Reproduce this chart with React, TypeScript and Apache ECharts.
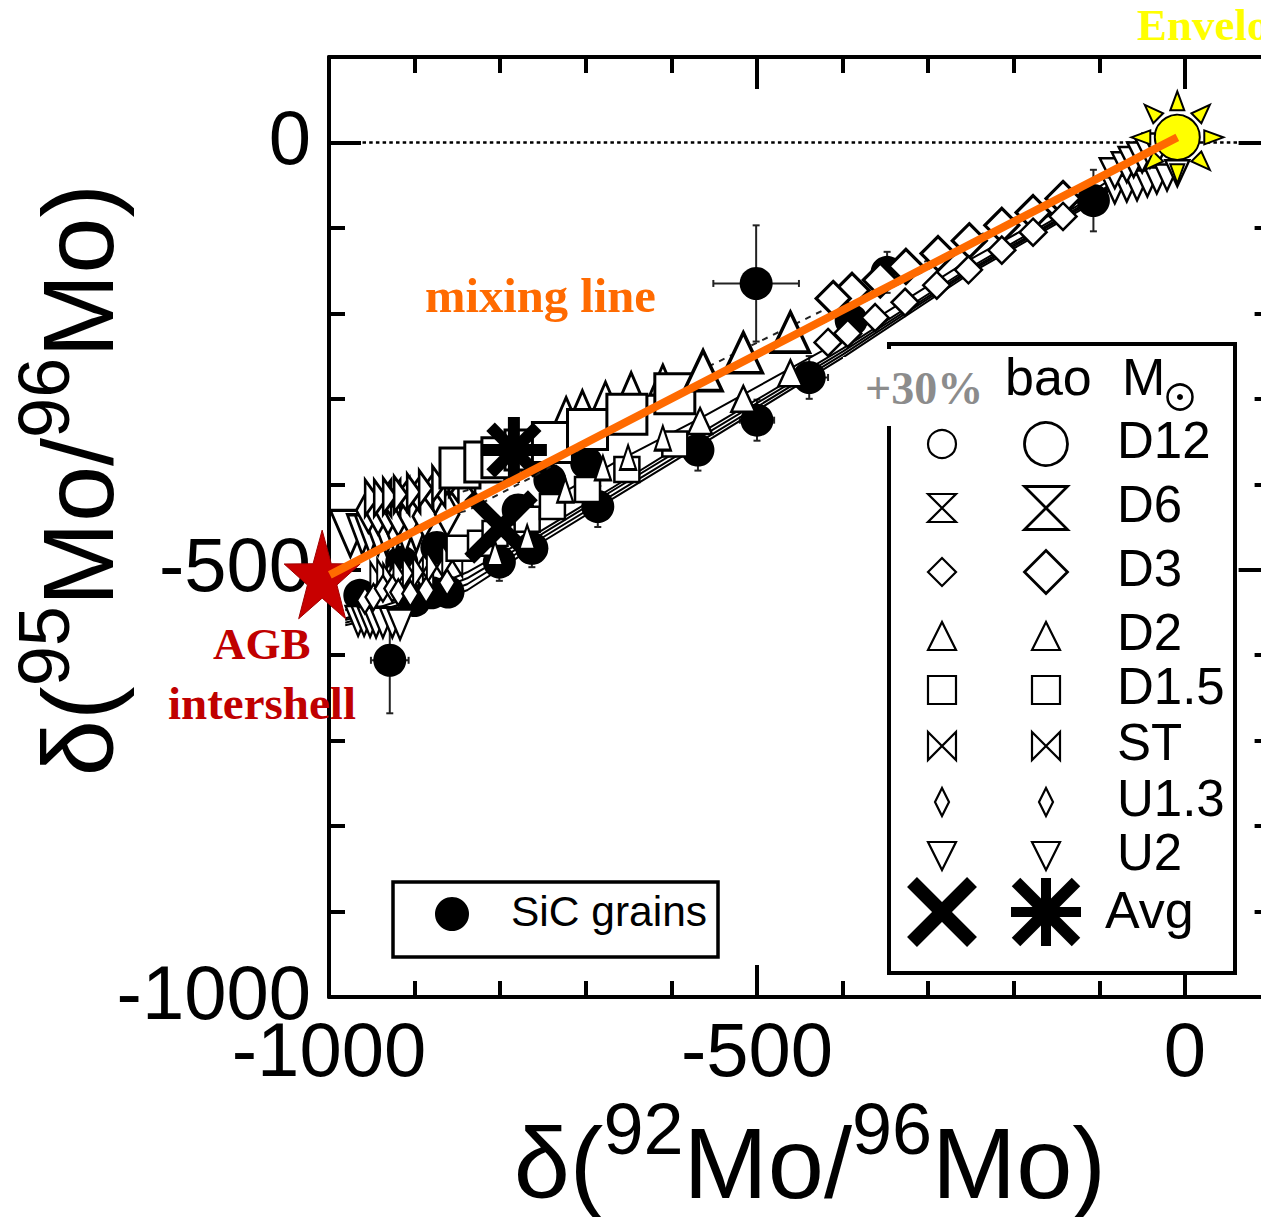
import React, { useEffect, useRef } from "react";
import * as echarts from "echarts";

const SANS = '"Liberation Sans", Arial, sans-serif';
const SERIF = '"Liberation Serif", serif';

// ---- SiC grains: x, y, x-error, y-error
const grainX = [-501, -500, -439, -569, -107, -348, -390, -686, -763, -801, -699, -742, -779, -874, -915, -964, -861, -880, -900, -929];
const grainY = [-165, -325, -275, -360, -68, -152, -208, -426, -475, -491, -375, -395, -430, -474, -491, -530, -526, -527, -536, -606];
const grainErrX = [50, 20, 22, 12, 12, 12, 10, 10, 10, 10, 10, 10, 10, 10, 10, 10, 10, 10, 10, 22];
const grainErrY = [68, 24, 25, 24, 36, 24, 12, 24, 22, 22, 12, 12, 12, 12, 12, 12, 12, 12, 12, 62];

// ---- model mixing lines
const bundleX = [-9, -110.6, -253, -399.5, -566.5, -668, -761.5, -838.6, -917, -981];
const bundleY1 = [2, -72.5, -154.5, -251.5, -354.5, -416.5, -474, -524, -550, -565];
const bundleY2 = [5, -70, -152, -248, -350, -412, -469, -517, -545, -562];
const bundleY3 = [6, -68, -150, -244.5, -345, -407, -464.5, -510, -540.5, -559];
const bundleY4 = [6, -65.5, -147.5, -241, -340.5, -403.5, -460, -503, -536, -557];
const bundleY5 = [6, -58.5, -138, -230.5, -323, -375.5, -430.5, -471.5, -518, -547.5];
const dashedX = [-9, -253, -399.5, -566.5, -668, -761.5, -838.6, -917, -981];
const dashedY1 = [6, -115, -185, -267, -316, -372, -407, -431, -448];
const dashedY2 = [6, -124, -199, -285.5, -337, -391, -431, -448, -460];

// ---- model markers
const upDiamonds = [[-142.5, -65.5], [-177.5, -82], [-214, -97], [-252, -115], [-288.5, -130], [-326, -145], [-356, -161], [-389, -173], [-411, -182.5]];
const upTriLarge = [[-461, -222], [-516, -246], [-563, -267]];
const upTriSmall = [[-610, -278], [-647, -287], [-677, -298], [-704, -308], [-723, -316]];
const upSquares = [[-847, -381], [-818, -374], [-798, -369], [-771, -360], [-739, -351], [-698, -336], [-652, -318], [-596, -294]];
const upBowties = [[-942.6, -416], [-932, -416], [-921.5, -414], [-908.7, -412], [-893.5, -409], [-879.5, -405], [-864, -400], [-844.5, -392]];
const upThin = [[-954, -430.5], [-942.6, -433], [-931, -433], [-919, -435], [-905, -435], [-888, -437.6], [-862, -435]];
const upDownBig = [[-975, -457.5]];
const upDownStack = [[-961, -459], [-952, -459], [-942.6, -459], [-933, -459], [-923, -457], [-911, -457], [-898, -456]];
const sunDownUp = [[-82, -36], [-68, -29], [-60, -23], [-50, -17.5], [-41, -12], [-31.5, -7]];
const sunDownLow = [[-82, -56], [-68, -54], [-56, -52.6], [-44, -48], [-33, -44.5], [-21, -41], [-9, -36]];
const lowDiamonds = [[-142.5, -86.6], [-177.5, -105], [-214, -126], [-253, -149], [-290, -167], [-327, -187], [-362, -205], [-394, -223.5], [-417, -234]];
const lowTriLarge = [[-461, -270], [-516, -300], [-566.5, -326]];
const lowTriSmall = [[-610, -346], [-650.6, -368.6], [-680, -381], [-724, -407], [-768.5, -462], [-806, -481]];
const lowSquares = [[-848, -475], [-823, -469], [-806, -457.5], [-768.5, -441], [-739, -426], [-698, -406], [-652, -382.6], [-596, -353]];
const lowBowties = [[-940, -510], [-932, -506.5], [-925, -512], [-913, -506.5], [-902, -504], [-890, -503], [-874, -497], [-856, -489]];
const lowThin = [[-958, -536], [-948, -532], [-937, -522], [-926, -522], [-919, -526.5], [-905, -528], [-886.5, -524], [-862, -515]];
const lowDown = [[-966, -560], [-959, -560], [-952, -561], [-945, -562], [-937, -562], [-926, -562], [-917, -564]];

const avgCross = [[-799, -450]];
const avgAsterisk = [[-784, -360]];

const mixingLine = [[-9, 6], [-999, -506]];
const envelopePoint = [[-9, 6]];
const agbPoint = [[-1008, -511]];
const zeroLine = [[-1000, 0], [100, 0]];

// ---- tick values
const xMajorTicks = [-1000, -500, 0];
const yMajorTicks = [-1000, -500, 0];

// ---- legend
const legendRows = ["D12", "D6", "D3", "D2", "D1.5", "ST", "U1.3", "U2"];
const legendShapes = ["circle", "hourglass", "diamond", "triangle", "square", "bowtie", "thin", "down"];
const legendRight = [43, 43, 43, 28, 28, 28, 28, 28];

const BOWTIE = "path://M0 0L10 10L10 0L0 10Z";

function polyPoints(shape: string, cx: number, cy: number, s: number): number[][] {
  const h = s / 2;
  switch (shape) {
    case "hourglass": return [[cx - h, cy - h], [cx + h, cy - h], [cx - h, cy + h], [cx + h, cy + h]];
    case "diamond": return [[cx - h, cy], [cx, cy - h], [cx + h, cy], [cx, cy + h]];
    case "triangle": return [[cx - h, cy + h], [cx, cy - h], [cx + h, cy + h]];
    case "square": return [[cx - h, cy - h], [cx + h, cy - h], [cx + h, cy + h], [cx - h, cy + h]];
    case "bowtie": return [[cx - h, cy - h], [cx + h, cy + h], [cx + h, cy - h], [cx - h, cy + h]];
    case "thin": return [[cx - h / 2, cy], [cx, cy - h], [cx + h / 2, cy], [cx, cy + h]];
    default: return [[cx - h, cy - h], [cx + h, cy - h], [cx, cy + h]];
  }
}

function zip(xs: number[], ys: number[]) {
  return xs.map((x, i) => [x, ys[i]]);
}

function marks(data: number[][], symbol: string, size: number | number[], rotate = 0, width = 2.5) {
  return {
    type: "scatter",
    data,
    symbol,
    symbolSize: size,
    symbolRotate: rotate,
    clip: false,
    itemStyle: { color: "#fff", borderColor: "#000", borderWidth: width, opacity: 1 },
  };
}

function thinLine(data: number[][], dashed = false) {
  return {
    type: "line",
    data,
    showSymbol: false,
    symbol: "none",
    clip: false,
    lineStyle: dashed
      ? { color: "#222", width: 2, type: [6, 6] }
      : { color: "#000", width: 2 },
  };
}

function armSeries(data: number[][], angles: number[], arm: number, width: number) {
  return {
    type: "custom",
    data,
    encode: { x: 0, y: 1 },
    renderItem: (_p: any, api: any) => {
      const [cx, cy] = api.coord([api.value(0), api.value(1)]);
      return {
        type: "group",
        children: angles.map((a) => {
          const t = (a * Math.PI) / 180;
          return {
            type: "line",
            shape: { x1: cx - arm * Math.cos(t), y1: cy - arm * Math.sin(t), x2: cx + arm * Math.cos(t), y2: cy + arm * Math.sin(t) },
            style: { stroke: "#000", lineWidth: width },
          };
        }),
      };
    },
  };
}

function makeAxes(kind: "x" | "y") {
  const major = kind === "x" ? xMajorTicks : yMajorTicks;
  const range = { min: -1000, max: 100 };
  const first = kind === "x" ? "bottom" : "left";
  const second = kind === "x" ? "top" : "right";
  const base = { type: "value", ...range, splitLine: { show: false }, axisLine: { onZero: false, show: true, lineStyle: { color: "#000", width: 4 } } };
  const rich = {
    b: { fontFamily: SANS, fontSize: 101, lineHeight: 140, color: "#000" },
    s: { fontFamily: SANS, fontSize: 72, verticalAlign: "top", lineHeight: 72, color: "#000" },
  };
  const tick = (len: number) => ({ show: true, inside: true, length: len, lineStyle: { color: "#000", width: 4 } });
  const labelStyle = { fontFamily: SANS, fontSize: 76, color: "#000" };
  return [
    {
      ...base,
      position: first,
      name: kind === "x" ? "{b|δ(}{s|92}{b|Mo/}{s|96}{b|Mo)}" : "{b|δ(}{s|95}{b|Mo/}{s|96}{b|Mo)}",
      nameLocation: "middle",
      nameMoveOverlap: false,
      nameGap: kind === "x" ? 96 : 181,
      nameTextStyle: kind === "x" ? { rich, padding: [0, 0, 0, 20] } : { rich, padding: [0, 0, 0, 94] },
      axisTick: { ...tick(32), customValues: major },
      axisLabel: {
        show: true,
        customValues: major,
        ...labelStyle,
        margin: kind === "x" ? 14 : 18,
        formatter: kind === "x" ? (v: number) => String(v) : (v: number) => `{a|${v}}`,
        rich: { a: { ...labelStyle, padding: [0, 0, 10, 0] } },
      },
    },
    { ...base, position: second, axisTick: { ...tick(32), customValues: major }, axisLabel: { show: false } },
    { ...base, position: first, interval: 100, axisLine: { onZero: false, show: false }, axisTick: tick(16), axisLabel: { show: false } },
    { ...base, position: second, interval: 100, axisLine: { onZero: false, show: false }, axisTick: tick(16), axisLabel: { show: false } },
  ];
}

function legendGraphics() {
  const Z = 50;
  const els: any[] = [];
  const txt = (text: string, x: number, y: number, font: string, fill = "#000", align = "left") => ({
    type: "text", z: Z + 1,
    style: { text, x, y, font, fill, align, verticalAlign: "middle" },
  });
  // white covers
  els.push({ type: "rect", z: Z, shape: { x: 843, y: 357, width: 50, height: 69 }, style: { fill: "#fff" } });
  els.push({ type: "rect", z: Z, shape: { x: 889, y: 344, width: 346, height: 629 }, style: { fill: "#fff" } });
  els.push({
    type: "polyline", z: Z + 1,
    shape: { points: [[889, 426], [889, 973], [1235, 973], [1235, 344], [889, 344], [889, 349]] },
    style: { stroke: "#000", lineWidth: 4, fill: "none" },
  });
  els.push(txt("+30%", 865, 388, `bold 46px ${SERIF}`, "#8c8c8c"));
  els.push(txt("bao", 1005, 377, `52px ${SANS}`));
  els.push(txt("M", 1122, 377, `52px ${SANS}`));
  els.push({ type: "circle", z: Z + 1, shape: { cx: 1180, cy: 397, r: 12.5 }, style: { fill: "none", stroke: "#000", lineWidth: 2.5 } });
  els.push({ type: "circle", z: Z + 1, shape: { cx: 1180, cy: 397, r: 3 }, style: { fill: "#000" } });
  const rowY = [444, 508, 572, 636, 690, 746, 802, 856];
  legendRows.forEach((name, i) => {
    const y = rowY[i];
    els.push(txt(name, 1117, y - 4, `51px ${SANS}`));
    const draw = (cx: number, s: number, w: number) => {
      const shape = legendShapes[i];
      if (shape === "circle") {
        els.push({ type: "circle", z: Z + 1, shape: { cx, cy: y, r: s / 2 }, style: { fill: "#fff", stroke: "#000", lineWidth: w } });
      } else {
        els.push({ type: "polygon", z: Z + 1, shape: { points: polyPoints(shape, cx, y, s) }, style: { fill: "#fff", stroke: "#000", lineWidth: w } });
      }
    };
    draw(942, 28, 2.2);
    draw(1046, legendRight[i], legendRight[i] > 30 ? 2.8 : 2.2);
  });
  // Avg row
  const xArm = (cx: number, w: number, a: number) =>
    [[cx - a, 912 - a, cx + a, 912 + a], [cx - a, 912 + a, cx + a, 912 - a]].map(([x1, y1, x2, y2]) => ({
      type: "line", z: Z + 1, shape: { x1, y1, x2, y2 }, style: { stroke: "#000", lineWidth: w },
    }));
  els.push(...xArm(942, 14, 30));
  els.push(...xArm(1046, 12, 30));
  els.push({ type: "line", z: Z + 1, shape: { x1: 1046, y1: 878, x2: 1046, y2: 946 }, style: { stroke: "#000", lineWidth: 10 } });
  els.push({ type: "line", z: Z + 1, shape: { x1: 1011, y1: 912, x2: 1081, y2: 912 }, style: { stroke: "#000", lineWidth: 10 } });
  els.push(txt("Avg", 1105, 910, `52px ${SANS}`));
  // SiC grains key
  els.push({ type: "rect", z: Z, shape: { x: 393, y: 882, width: 325, height: 75 }, style: { fill: "#fff", stroke: "#000", lineWidth: 3.5 } });
  els.push({ type: "circle", z: Z + 1, shape: { cx: 452, cy: 914, r: 17 }, style: { fill: "#000" } });
  els.push(txt("SiC grains", 511, 911, `42.5px ${SANS}`));
  // annotations
  els.push(txt("mixing line", 425, 296, `bold 48.6px ${SERIF}`, "#ff6a00"));
  els.push(txt("AGB", 213, 644, `bold 45px ${SERIF}`, "#c00000"));
  els.push(txt("intershell", 168, 703, `bold 47px ${SERIF}`, "#c00000"));
  els.push(txt("Envelope", 1137, 25, `bold 45px ${SERIF}`, "#ffff00"));
  return els;
}

export default function App() {
  const ref = useRef<HTMLDivElement>(null);
  useEffect(() => {
    document.body.style.margin = "0";
    document.body.style.overflow = "hidden";
    const chart = echarts.init(ref.current!, undefined, { renderer: "svg" });
    const series: any[] = [
      {
        type: "line", data: zeroLine, symbol: "none", showSymbol: false, clip: false,
        lineStyle: { color: "#000", width: 2.5, type: [3.5, 3.2] },
      },
      {
        type: "custom",
        data: grainX.map((x, i) => [x, grainY[i], grainErrX[i], grainErrY[i]]),
        encode: { x: 0, y: 1 },
        renderItem: (_p: any, api: any) => {
          const x = api.value(0), y = api.value(1), ex = api.value(2), ey = api.value(3);
          const l = api.coord([x - ex, y]), r = api.coord([x + ex, y]), t = api.coord([x, y + ey]), b = api.coord([x, y - ey]);
          const cap = 3.5;
          const seg = (x1: number, y1: number, x2: number, y2: number) => ({
            type: "line", shape: { x1, y1, x2, y2 }, style: { stroke: "#222", lineWidth: 2 },
          });
          return {
            type: "group",
            children: [
              seg(l[0], l[1], r[0], r[1]),
              seg(t[0], t[1], b[0], b[1]),
              seg(l[0], l[1] - cap, l[0], l[1] + cap),
              seg(r[0], r[1] - cap, r[0], r[1] + cap),
              seg(t[0] - cap, t[1], t[0] + cap, t[1]),
              seg(b[0] - cap, b[1], b[0] + cap, b[1]),
            ],
          };
        },
      },
      { type: "scatter", data: zip(grainX, grainY), symbol: "circle", symbolSize: 33, clip: false, itemStyle: { color: "#000", opacity: 1 } },
      thinLine(zip(dashedX, dashedY1), true),
      thinLine(zip(dashedX, dashedY2), true),
      thinLine(zip(bundleX, bundleY1)),
      thinLine(zip(bundleX, bundleY2)),
      thinLine(zip(bundleX, bundleY3)),
      thinLine(zip(bundleX, bundleY4)),
      thinLine(zip(bundleX, bundleY5)),
      marks(sunDownLow, "triangle", [24, 26], 180),
      marks(sunDownUp, "triangle", [30, 30], 180),
      marks(upDownBig, "triangle", [40, 46], 180, 3),
      marks(upDownStack, "triangle", [30, 40], 180, 3),
      marks(upThin, "diamond", [24, 44], 0, 3),
      marks(upBowties, BOWTIE, [26, 36], 0, 3),
      marks(upTriSmall, "triangle", [26, 30], 0, 3),
      marks(upSquares, "rect", [40, 40], 0, 3),
      marks(upTriLarge, "triangle", [38, 40], 0, 3.5),
      marks(upDiamonds, "diamond", [34, 34], 0, 3.2),
      armSeries(avgAsterisk, [0, 90, 45, 135], 33, 12),
      marks(lowDown, "triangle", [25, 30], 180),
      marks(lowBowties, BOWTIE, [20, 32]),
      marks(lowThin, "diamond", [16, 26]),
      marks(lowSquares, "rect", [25, 25]),
      armSeries(avgCross, [45, 135], 45, 14),
      marks(lowTriSmall, "triangle", [16, 24]),
      marks(lowTriLarge, "triangle", [24, 26]),
      marks(lowDiamonds, "diamond", [27, 27]),
      {
        type: "custom",
        data: agbPoint,
        encode: { x: 0, y: 1 },
        renderItem: (_p: any, api: any) => {
          const [cx, cy] = api.coord([api.value(0), api.value(1)]);
          const pts: number[][] = [];
          for (let i = 0; i < 10; i++) {
            const rad = i % 2 ? 19 : 49;
            const t = -Math.PI / 2 + (i * Math.PI) / 5;
            pts.push([cx + 0.815 * rad * Math.cos(t), cy + rad * Math.sin(t)]);
          }
          return { type: "polygon", shape: { points: pts }, style: { fill: "#c80000", stroke: "#a00000", lineWidth: 1 } };
        },
      },
      {
        type: "custom",
        data: envelopePoint,
        encode: { x: 0, y: 1 },
        renderItem: (_p: any, api: any) => {
          const [cx, cy] = api.coord([api.value(0), api.value(1)]);
          const children: any[] = [];
          for (let i = 0; i < 8; i++) {
            const t = (i * Math.PI) / 4;
            const c = Math.cos(t), s = Math.sin(t);
            children.push({
              type: "polygon",
              shape: { points: [[cx + 46 * c, cy + 46 * s], [cx + 27 * c - 7 * s, cy + 27 * s + 7 * c], [cx + 27 * c + 7 * s, cy + 27 * s - 7 * c]] },
              style: { fill: "#ffff00", stroke: "#000", lineWidth: 2 },
            });
          }
          children.push({ type: "circle", shape: { cx, cy, r: 22.5 }, style: { fill: "#ffff00", stroke: "#000", lineWidth: 2 } });
          return { type: "group", children };
        },
      },
      {
        type: "line", data: mixingLine, symbol: "none", showSymbol: false, clip: false,
        lineStyle: { color: "#ff6a00", width: 8 },
      },
    ];
    chart.setOption({
      animation: false,
      backgroundColor: "#fff",
      grid: { left: 329, top: 57, width: 941.6, height: 940, containLabel: false, outerBoundsMode: "none" },
      xAxis: makeAxes("x"),
      yAxis: makeAxes("y"),
      graphic: { elements: legendGraphics() },
      series: series.map((s, i) => ({ ...s, z: 3 + i })),
    });
    return () => chart.dispose();
  }, []);
  return <div ref={ref} style={{ width: 1261, height: 1217 }} />;
}
